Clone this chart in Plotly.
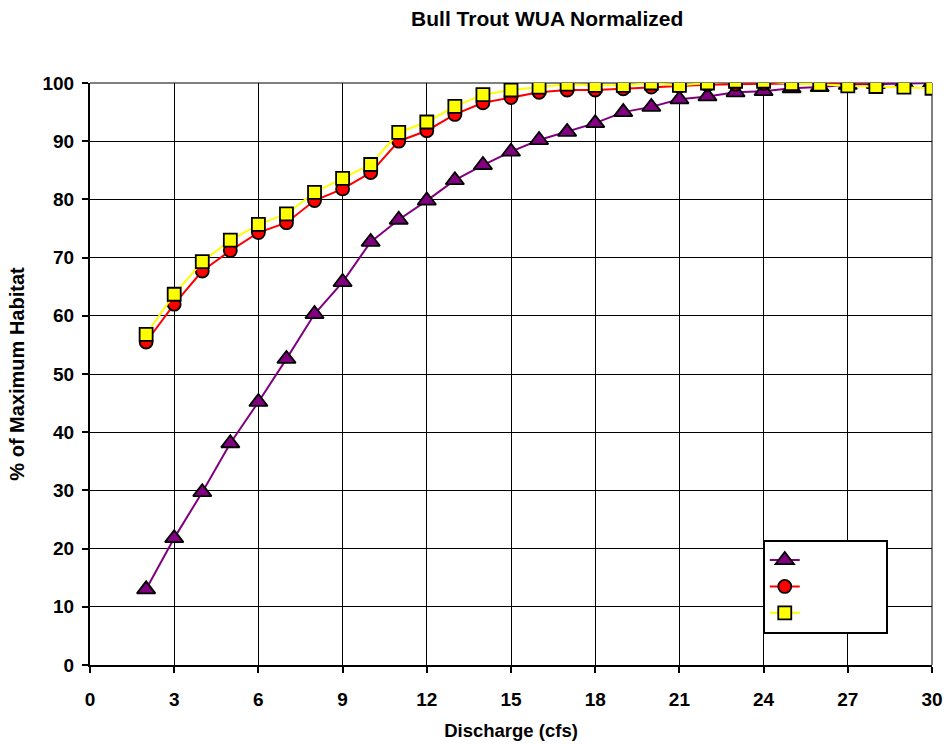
import plotly.graph_objects as go

discharge = list(range(2, 31))

series_a = [13.0, 21.8, 29.7, 38.1, 45.2, 52.6, 60.3, 65.8, 72.7, 76.5, 79.8, 83.3, 85.9, 88.2,
            90.2, 91.6, 93.1, 95.0, 95.9, 97.2, 97.7, 98.4, 98.6, 99.1, 99.3, 99.7, 99.8, 100.0, 100.0]
series_b = [55.5, 62.0, 67.7, 71.2, 74.3, 76.0, 79.8, 81.8, 84.6, 90.0, 91.8, 94.6, 96.6, 97.5,
            98.4, 98.8, 98.8, 99.0, 99.3, 99.5, 99.7, 99.8, 99.9, 99.9, 100.0, 100.0, 100.1, 100.3, 100.2]
series_c = [56.8, 63.7, 69.3, 73.0, 75.7, 77.5, 81.2, 83.6, 86.0, 91.5, 93.3, 96.0, 98.0, 98.8,
            99.3, 99.8, 99.6, 99.6, 100.0, 99.6, 100.0, 100.3, 100.3, 99.9, 99.8, 99.5, 99.4, 99.3, 99.1]

x_ticks = list(range(0, 31, 3))
y_ticks = list(range(0, 101, 10))

FONT = "Arial, 'Liberation Sans', sans-serif"
PAD = "\u00a0" * 15

fig = go.Figure()
fig.add_trace(go.Scatter(
    x=discharge, y=series_a, mode="lines+markers", name=PAD,
    line=dict(color="#800080", width=2),
    marker=dict(symbol="triangle-up", size=16, color="#800080", line=dict(color="black", width=1.8)),
))
fig.add_trace(go.Scatter(
    x=discharge, y=series_b, mode="lines+markers", name=PAD,
    line=dict(color="#ff0000", width=2),
    marker=dict(symbol="circle", size=13, color="#ff0000", line=dict(color="black", width=1.8)),
))
fig.add_trace(go.Scatter(
    x=discharge, y=series_c, mode="lines+markers", name=PAD,
    line=dict(color="#ffff00", width=2),
    marker=dict(symbol="square", size=13, color="#ffff00", line=dict(color="black", width=1.8)),
))

fig.update_layout(
    template="none",
    width=949, height=744,
    margin=dict(l=90, r=17, t=83, b=79),
    paper_bgcolor="white", plot_bgcolor="white",
    font=dict(family=FONT, size=19, color="black"),
    title=dict(text="<b>Bull Trout WUA Normalized</b>", x=0.543, xref="paper", xanchor="center",
               y=0.9745, yref="container", yanchor="middle", font=dict(size=21)),
    showlegend=True,
    legend=dict(x=0.799, y=0.215, xanchor="left", yanchor="top", bgcolor="white",
                bordercolor="black", borderwidth=2, font=dict(size=18), tracegroupgap=0),
    xaxis=dict(range=[0, 30], tickvals=x_ticks, ticktext=[f"<b>{v}</b>" for v in x_ticks],
               showgrid=True, gridcolor="black", gridwidth=1.3, automargin=False,
               showline=True, linecolor="black", linewidth=2,
               ticks="outside", ticklen=6, tickcolor="black", tickwidth=1.5,
               ticklabelstandoff=10, zeroline=False, tickfont=dict(size=19),
               title=dict(text="<b>Discharge (cfs)</b>", standoff=15, font=dict(size=18.5))),
    yaxis=dict(range=[0, 100], tickvals=y_ticks, ticktext=[f"<b>{v}</b>" for v in y_ticks],
               showgrid=True, gridcolor="black", gridwidth=1.3, automargin=False,
               showline=True, linecolor="black", linewidth=2,
               ticks="outside", ticklen=6, tickcolor="black", tickwidth=1.5,
               ticklabelstandoff=4, zeroline=False, tickfont=dict(size=19),
               title=dict(text="<b>% of Maximum Habitat</b>", standoff=12, font=dict(size=20))),
    shapes=[
        dict(type="line", xref="paper", yref="paper", x0=0, x1=1, y0=1, y1=1,
             line=dict(color="#808080", width=2), layer="between"),
        dict(type="line", xref="paper", yref="paper", x0=1, x1=1, y0=0, y1=1,
             line=dict(color="#808080", width=2), layer="between"),
    ],
)

fig.write_html("out.html")
